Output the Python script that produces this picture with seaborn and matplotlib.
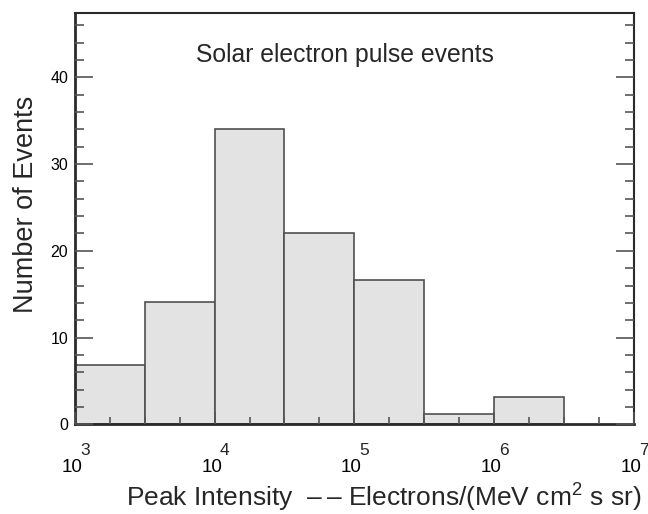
import numpy as np
import pandas as pd
import matplotlib
matplotlib.use("Agg")
import matplotlib.pyplot as plt
import matplotlib.transforms as mtransforms
import seaborn as sns
from matplotlib.ticker import FixedLocator

# Data: bins of half a decade in peak intensity
bin_exponents = [3.0, 3.5, 4.0, 4.5, 5.0, 5.5, 6.0, 6.5]
bin_centers = [10**3.25, 10**3.75, 10**4.25, 10**4.75, 10**5.25, 10**5.75, 10**6.25]
counts = [6.8, 14.1, 34.0, 22.0, 16.6, 1.2, 3.1]
xtick_exps = [3, 4, 5, 6, 7]
yticks = [0, 10, 20, 30, 40]

df = pd.DataFrame({"intensity": bin_centers, "count": counts})

sns.set_theme(style="ticks")
plt.rcParams["font.family"] = ["Liberation Sans", "DejaVu Sans"]
plt.rcParams["mathtext.fontset"] = "custom"
plt.rcParams["mathtext.rm"] = "Liberation Sans"
plt.rcParams["mathtext.it"] = "Liberation Sans"

fig = plt.figure(figsize=(6.48, 5.14), dpi=100)
ax = fig.add_axes([0.1157, 0.1745, 0.8622, 0.8008])

sns.histplot(data=df, x="intensity", weights="count", bins=bin_exponents,
             log_scale=True, ax=ax, color="#e3e3e3", alpha=1.0,
             edgecolor="#505050", linewidth=1.2)
ax.set_axisbelow(False)

ax.set_xlim(1e3, 1e7)
ax.set_ylim(0, 47.45)

xticks = [10.0**e for e in xtick_exps]
ax.xaxis.set_major_locator(FixedLocator(xticks))
ax.set_xticklabels(["10"] * len(xticks))
ax.xaxis.set_minor_locator(FixedLocator([10.0**(e + f) for e in [3, 4, 5, 6] for f in (0.25, 0.5, 0.75)]))
ax.set_yticks(yticks)
ax.yaxis.set_minor_locator(FixedLocator(np.arange(0, 47, 2)))

ax.tick_params(axis="y", which="major", direction="in", length=12.8, width=1.2,
               colors="#555555", labelcolor="black", labelsize=11.5, left=True, right=True, pad=5)
ax.tick_params(axis="y", which="minor", direction="in", length=6.6, width=1.2,
               colors="#555555", left=True, right=True)
ax.tick_params(axis="x", which="major", direction="in", length=9, width=1.2,
               colors="#555555", labelcolor="black", labelsize=13.5, bottom=True, top=False, pad=25)
ax.tick_params(axis="x", which="minor", direction="in", length=4.8, width=1.2,
               colors="#555555", bottom=True, top=False)

# shift the "10" base slightly left and add raised exponents
shift_left = mtransforms.ScaledTranslation(-3 / 100, 0, fig.dpi_scale_trans)
for lab in ax.get_xticklabels():
    lab.set_transform(lab.get_transform() + shift_left)
exp_offset = mtransforms.ScaledTranslation(5 / 100, 0, fig.dpi_scale_trans)
blend = mtransforms.blended_transform_factory(ax.transData, ax.transAxes)
for e, xv in zip(xtick_exps, xticks):
    ax.text(xv, -0.0746, str(e), transform=blend + exp_offset, ha="left",
            va="baseline", fontsize=12.5, clip_on=False)

for name, s in ax.spines.items():
    s.set_visible(True)
    s.set_color("#2a2a2a")
    s.set_linewidth(2.0 if name in ("left", "bottom") else 1.5)

ax.set_xlabel("Peak Intensity  \u2013\u2009\u2013 Electrons/(MeV cm$^{2}$ s sr)", fontsize=19)
ax.xaxis.label.set_va("baseline")
ax.xaxis.set_label_coords(0.553, -0.201)

ax.set_ylabel("Number of Events", fontsize=19.5)
ax.yaxis.label.set_va("baseline")
ax.yaxis.set_label_coords(-0.075, 0.534)

ax.text(0.483, 0.880, "Solar electron pulse events", transform=ax.transAxes,
        ha="center", va="baseline", fontsize=17.8)

fig.savefig("out.png", dpi=100)
